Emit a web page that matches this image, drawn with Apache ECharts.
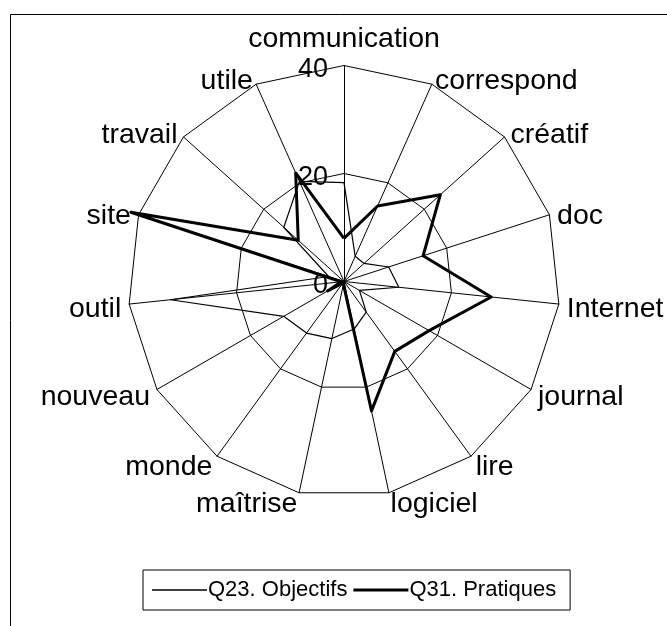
<!DOCTYPE html>
<html>
<head>
<meta charset="utf-8">
<script src="https://cdn.jsdelivr.net/npm/echarts@6/dist/echarts.min.js"></script>
<style>
html,body{margin:0;padding:0;background:#fff;}
#c{width:667px;height:626px;}
</style>
</head>
<body>
<div id="c"></div>
<script>
// Categories in clockwise order starting from the top
const categories = ['communication','correspond','créatif','doc','Internet','journal','lire','logiciel','maîtrise','monde','nouveau','outil','site','travail','utile'];
const seriesNames = ['Q23. Objectifs','Q31. Pratiques'];
const objectifs = [18.3, 5.1, 5.0, 8.7, 10.2, 3.3, 7.0, 9.0, 10.8, 11.8, 12.9, 32.3, 3.0, 15.0, 20.3];
const pratiques = [8.0, 15.3, 24.0, 15.4, 27.4, 18.2, 16.0, 24.5, 0.5, 0.3, 3.5, 0.5, 41.5, 11.4, 22.0];
const axisMax = 40;
const tickInterval = 20;

// ECharts radar runs counter-clockwise: reorder so the picture runs clockwise
const order = [0];
for (let i = categories.length - 1; i >= 1; i--) order.push(i);
const reorder = arr => order.map(i => arr[i]);

const FONT = '"Liberation Sans", Arial, sans-serif';
const NAME_SIZE = 28.5;
const chart = echarts.init(document.getElementById('c'), null, {renderer: 'canvas'});
const center = [344, 281.5];
const radius = 216;

chart.setOption({
  animation: false,
  backgroundColor: '#fff',
  graphic: [{
    type: 'rect', left: 8, top: 12, silent: true, z: -10,
    shape: {width: 700, height: 700},
    style: {fill: null, stroke: '#000', lineWidth: 1}
  }],
  legend: {
    left: 143, top: 570,
    padding: [9, 14, 9, 9],
    itemGap: 6,
    itemWidth: 55, itemHeight: 3,
    borderColor: '#000', borderWidth: 1,
    textStyle: {fontFamily: FONT, fontSize: 22, color: '#000', padding: [0, 0, 0, -4]},
    data: [
      {name: seriesNames[0], icon: 'path://M0,0 L55,0 L55,1.4 L0,1.4 Z', itemStyle: {color: '#000', borderWidth: 0}},
      {name: seriesNames[1], icon: 'rect', itemStyle: {color: '#000', borderWidth: 0}}
    ]
  },
  radar: {
    center: center,
    radius: radius,
    shape: 'polygon',
    splitNumber: axisMax / tickInterval,
    nameGap: 8,
    indicator: reorder(categories).map(n => ({name: n, min: 0, max: axisMax})),
    axisName: {
      color: '#000', fontFamily: FONT, fontSize: NAME_SIZE,
      formatter: function (name) {
        return name === categories[0] ? '{top|' + name + '}' : '{side|' + name + '}';
      },
      rich: {
        top: {fontFamily: FONT, fontSize: NAME_SIZE, color: '#000', padding: [0, 0, 4, 0]},
        side: {fontFamily: FONT, fontSize: NAME_SIZE, color: '#000', padding: [8, 0, 0, 0]}
      }
    },
    splitLine: {lineStyle: {color: '#000', width: 1}},
    splitArea: {show: false},
    axisLine: {lineStyle: {color: '#000', width: 1}},
    axisTick: {show: false},
    axisLabel: {show: false}
  },
  polar: {center: center, radius: radius},
  angleAxis: {show: false, startAngle: 90, min: 0, max: 360},
  radiusAxis: {
    min: 0, max: axisMax, interval: tickInterval,
    axisLine: {show: false}, axisTick: {show: false}, splitLine: {show: false},
    axisLabel: {
      color: '#000', margin: 16,
      formatter: '{t|{value}}',
      rich: {t: {fontFamily: FONT, fontSize: 27, color: '#000', padding: [9, 0, 0, 0]}}
    }
  },
  series: [
    {
      name: seriesNames[0], type: 'radar', symbol: 'none',
      lineStyle: {color: '#000', width: 1.2},
      itemStyle: {color: '#000'},
      data: [{name: seriesNames[0], value: reorder(objectifs)}]
    },
    {
      name: seriesNames[1], type: 'radar', symbol: 'none',
      lineStyle: {color: '#000', width: 3},
      itemStyle: {color: '#000'},
      data: [{name: seriesNames[1], value: reorder(pratiques)}]
    }
  ]
});
</script>
</body>
</html>
